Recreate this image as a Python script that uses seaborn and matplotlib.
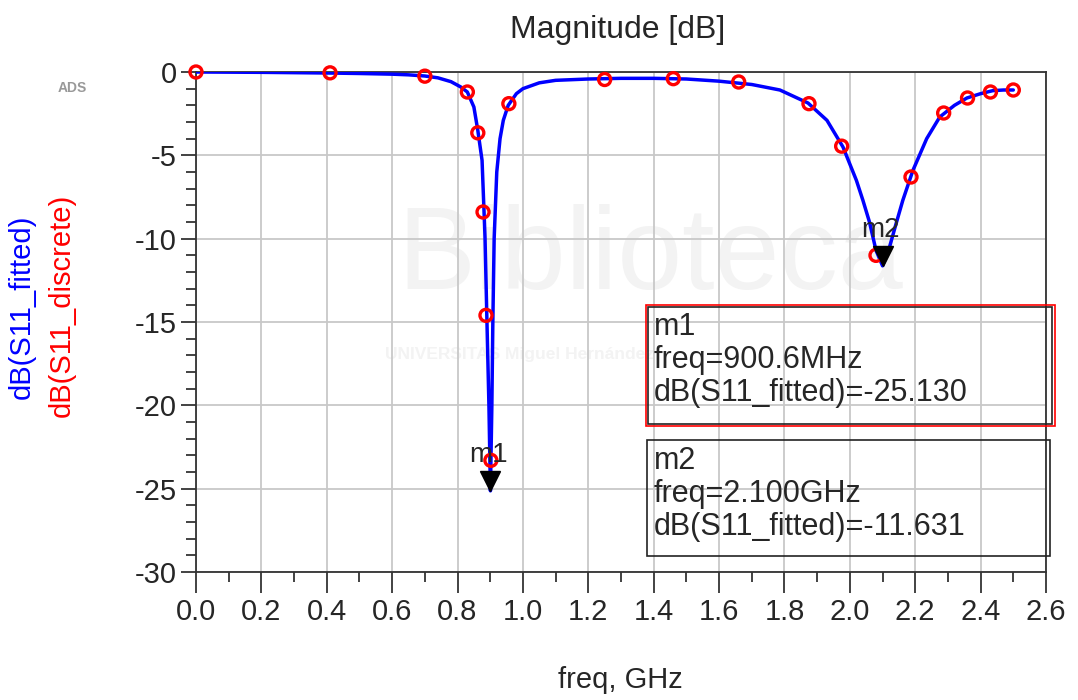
import matplotlib
matplotlib.use("Agg")
import matplotlib.pyplot as plt
import seaborn as sns
import pandas as pd
from matplotlib.patches import Rectangle
from matplotlib.ticker import MultipleLocator

# fitted curve
freq_fit = [0.0, 0.1, 0.2, 0.3, 0.4, 0.5, 0.6, 0.65, 0.7, 0.74, 0.78, 0.81, 0.83,
            0.85, 0.862, 0.875, 0.884, 0.89, 0.896, 0.9006, 0.905, 0.908, 0.912,
            0.92, 0.93, 0.94, 0.955, 0.98, 1.0, 1.05, 1.1, 1.2, 1.3, 1.4, 1.5,
            1.6, 1.7, 1.786, 1.872, 1.93, 1.979, 2.02, 2.04, 2.06, 2.08, 2.1,
            2.12, 2.14, 2.162, 2.193, 2.235, 2.275, 2.32, 2.358, 2.4, 2.437,
            2.47, 2.5]
db_fit = [0.0, -0.01, -0.02, -0.04, -0.06, -0.09, -0.13, -0.17, -0.24, -0.35,
          -0.58, -0.9, -1.2, -2.1, -3.5, -5.3, -9.9, -15.0, -20.0, -25.13,
          -20.0, -15.0, -10.0, -6.0, -4.0, -2.9, -2.0, -1.3, -1.0, -0.65, -0.5,
          -0.42, -0.38, -0.38, -0.42, -0.55, -0.75, -1.08, -1.86, -2.9, -4.5,
          -6.5, -7.7, -9.0, -10.7, -11.63, -10.6, -9.2, -7.7, -5.9, -4.0, -2.7,
          -2.0, -1.56, -1.3, -1.12, -1.08, -1.08]

# discrete points
freq_disc = [0.0, 0.41, 0.70, 0.83, 0.862, 0.878, 0.887, 0.902, 0.957, 1.25,
             1.46, 1.66, 1.875, 1.975, 2.08, 2.187, 2.287, 2.36, 2.43, 2.50]
db_disc = [0.0, -0.05, -0.25, -1.2, -3.65, -8.4, -14.6, -23.3, -1.9, -0.45,
           -0.4, -0.6, -1.9, -4.45, -11.0, -6.3, -2.46, -1.56, -1.2, -1.08]

# markers
marker_names = ["m1", "m2"]
marker_freq = [0.9006, 2.100]
marker_db = [-25.130, -11.631]
marker_freq_txt = ["900.6MHz", "2.100GHz"]

x_ticks = [0.0, 0.2, 0.4, 0.6, 0.8, 1.0, 1.2, 1.4, 1.6, 1.8, 2.0, 2.2, 2.4, 2.6]
y_ticks = [0, -5, -10, -15, -20, -25, -30]

df_fit = pd.DataFrame({"freq": freq_fit, "db": db_fit})
df_disc = pd.DataFrame({"freq": freq_disc, "db": db_disc})

sns.set_style("white")
plt.rcParams["font.family"] = ["Liberation Sans", "DejaVu Sans"]

W, H = 1078, 700
fig = plt.figure(figsize=(W / 100, H / 100), dpi=100)
ax = fig.add_axes([196 / W, 1 - 572 / H, (1046 - 196) / W, (572 - 72) / H])
ax.set_zorder(2)

def fx(px):
    return px / W

def fy(py):
    return 1 - py / H

# faint watermark (below the axes)
fig.text(fx(650), fy(258), "Biblioteca", fontsize=84, color="#f3f3f3",
         ha="center", va="center", zorder=0)
fig.text(fx(385), fy(355), "UNIVERSITAS Miguel Hernández", fontsize=12.5,
         color="#f3f3f3", ha="left", va="center", zorder=0,
         fontweight="bold")

ax.set_facecolor("none")
ax.grid(True, color="#c8c8c8", linewidth=1.3, zorder=1)
ax.set_axisbelow(True)

sns.lineplot(data=df_fit, x="freq", y="db", ax=ax, color="#0000ff",
             linewidth=2.5, zorder=3, sort=False)
sns.scatterplot(data=df_disc, x="freq", y="db", ax=ax, s=75,
                facecolor="none", edgecolor="#ff0000", linewidth=2.4,
                zorder=4, clip_on=False)

for name, f, d in zip(marker_names, marker_freq, marker_db):
    ax.plot([f], [d + 0.6], marker="v", markersize=15, color="black",
            zorder=5, linestyle="none")
    ax.text(f - 0.005, d + 1.4, name, fontsize=20, ha="center",
            va="bottom", zorder=6)

ax.set_xlim(0, 2.6)
ax.set_ylim(-30, 0)
ax.set_xticks(x_ticks)
ax.set_xticklabels([f"{v:.1f}" for v in x_ticks])
ax.set_yticks(y_ticks)
ax.set_yticklabels([str(v) for v in y_ticks])
ax.xaxis.set_minor_locator(MultipleLocator(0.1))
ax.yaxis.set_minor_locator(MultipleLocator(1))
ax.tick_params(bottom=True, left=True, which="both")
ax.tick_params(axis="x", which="major", direction="out", length=15,
               width=1.2, labelsize=21, pad=4, color="#222222")
ax.tick_params(axis="x", which="minor", direction="out", length=7,
               width=1.2, color="#222222")
ax.tick_params(axis="y", which="major", direction="out", length=11,
               width=1.2, labelsize=21, pad=3, color="#222222")
ax.tick_params(axis="y", which="minor", direction="out", length=7,
               width=1.2, color="#222222")
ax.set_xlabel("")
ax.set_ylabel("")
for sp in ax.spines.values():
    sp.set_visible(True)
    sp.set_color("#333333")
    sp.set_linewidth(1.3)

# titles and axis labels
fig.text(fx(618), fy(30), "Magnitude [dB]", fontsize=23, ha="center",
         va="center")
fig.text(fx(620), fy(680), "freq, GHz", fontsize=21, ha="center",
         va="center")
fig.text(fx(22), fy(307), "dB(S11_fitted)", fontsize=21, color="#0000ff",
         rotation=90, ha="center", va="center")
fig.text(fx(62), fy(305), "dB(S11_discrete)", fontsize=21, color="#ff0000",
         rotation=90, ha="center", va="center")
fig.text(fx(72), fy(88), "ADS", fontsize=10, color="#999999",
         fontweight="bold", ha="center", va="center")

# marker readout boxes
fig.add_artist(Rectangle((fx(646), fy(426)), (1055 - 646) / W, (426 - 305) / H,
                         fill=False, edgecolor="#ff0000", linewidth=1.2,
                         transform=fig.transFigure, zorder=7))
fig.add_artist(Rectangle((fx(648), fy(424)), (1052 - 648) / W, (424 - 307) / H,
                         fill=False, edgecolor="#222222", linewidth=1.2,
                         transform=fig.transFigure, zorder=7))
fig.add_artist(Rectangle((fx(647), fy(556)), (1050 - 647) / W, (556 - 440) / H,
                         fill=False, edgecolor="#222222", linewidth=1.2,
                         transform=fig.transFigure, zorder=7))
box_tops = [312, 446]
for name, ftxt, d, top in zip(marker_names, marker_freq_txt, marker_db, box_tops):
    fig.text(fx(654), fy(top), f"{name}\nfreq={ftxt}\ndB(S11_fitted)={d:.3f}",
             fontsize=22, ha="left", va="top", linespacing=1.13, zorder=8)

fig.savefig("out.png", dpi=100)
